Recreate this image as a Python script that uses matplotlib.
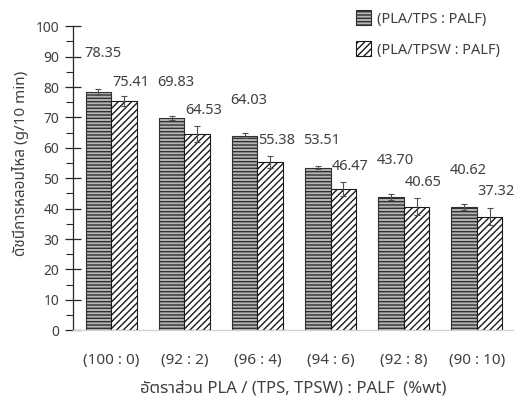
import matplotlib
matplotlib.use("Agg")
import matplotlib.pyplot as plt
import numpy as np

plt.rcParams['font.family'] = ['Noto Sans Thai', 'DejaVu Sans']
plt.rcParams['hatch.linewidth'] = 1.0

# Melt flow index of the two blend systems
categories = ["(100 : 0)", "(92 : 2)", "(96 : 4)", "(94 : 6)", "(92 : 8)", "(90 : 10)"]
series_names = ["(PLA/TPS : PALF)", "(PLA/TPSW : PALF)"]
mfi_tps = [78.35, 69.83, 64.03, 53.51, 43.70, 40.62]
mfi_tpsw = [75.41, 64.53, 55.38, 46.47, 40.65, 37.32]
err_tps = [1.0, 0.8, 0.8, 0.6, 1.0, 1.0]
err_tpsw = [1.5, 2.6, 1.9, 2.2, 2.7, 2.8]

# label lift above each bar (data units)
lift_tps = [12.7, 11.8, 11.6, 9.0, 12.3, 12.0]
lift_tpsw = [6.2, 7.9, 7.1, 7.5, 8.0, 8.4]

text_col = "#404040"
x = np.arange(len(categories))
w = 0.35

fig = plt.figure(figsize=(5.15, 3.97), dpi=100)
ax = fig.add_axes([0.142, 0.168, 0.855, 0.766])

ax.bar(x - w / 2, mfi_tps, w, color="#b4b4b4", edgecolor="#303030",
       hatch="-----", linewidth=0.8, label=series_names[0], zorder=2)
ax.bar(x + w / 2, mfi_tpsw, w, color="white", edgecolor="#1a1a1a",
       hatch="/////", linewidth=0.8, label=series_names[1], zorder=2)
ax.errorbar(x - w / 2, mfi_tps, yerr=err_tps, fmt="none", ecolor="#505050",
            elinewidth=0.8, capsize=2.2, capthick=0.8, zorder=3)
ax.errorbar(x + w / 2, mfi_tpsw, yerr=err_tpsw, fmt="none", ecolor="#505050",
            elinewidth=0.8, capsize=2.2, capthick=0.8, zorder=3)

for i in range(len(categories)):
    ax.text(x[i] - 0.37, mfi_tps[i] + lift_tps[i], f"{mfi_tps[i]:.2f}",
            ha="left", va="center", fontsize=10.5, color=text_col)
    ax.text(x[i] + 0.01, mfi_tpsw[i] + lift_tpsw[i], f"{mfi_tpsw[i]:.2f}",
            ha="left", va="center", fontsize=10.5, color=text_col)

ax.set_xlim(-0.52, 5.5)
ax.set_ylim(0, 100)
ax.set_yticks(np.arange(0, 101, 10))
ax.set_yticks(np.arange(5, 100, 10), minor=True)
ax.set_xticks(x)
ax.set_xticklabels(categories)
ax.tick_params(axis="y", which="major", direction="inout", length=12, width=0.9,
               colors="#262626", labelcolor=text_col, labelsize=10, pad=4)
ax.tick_params(axis="y", which="minor", direction="out", length=5, width=0.8,
               colors="#262626")
ax.tick_params(axis="x", length=0, pad=16, labelcolor=text_col, labelsize=11)

for s in ["top", "right"]:
    ax.spines[s].set_visible(False)
ax.spines["left"].set_color("#262626")
ax.spines["left"].set_linewidth(0.9)
ax.spines["bottom"].set_color("#d0d0d0")
ax.spines["bottom"].set_linewidth(0.9)

ax.set_xlabel("อัตราส่วน PLA / (TPS, TPSW) : PALF  (%wt)", fontsize=12,
              color=text_col, labelpad=9)
ax.set_ylabel("ดัชนีการหลอมไหล (g/10 min)", fontsize=11, color=text_col)
ax.yaxis.set_label_coords(-0.10, 0.55)

ax.legend(loc="upper right", bbox_to_anchor=(1.0, 1.095), frameon=False,
          fontsize=10.5, labelcolor=text_col, handlelength=1.0,
          handleheight=1.2, handletextpad=0.45, labelspacing=1.0)

fig.savefig("out.png", dpi=100)
